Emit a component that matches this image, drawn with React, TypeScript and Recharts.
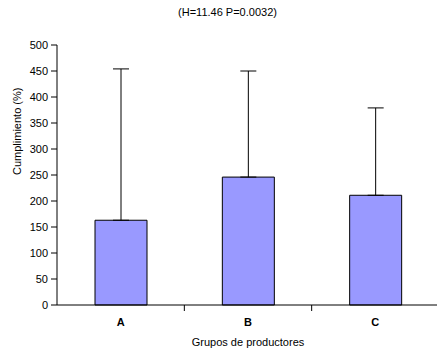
import React from 'react';
import { BarChart, Bar, XAxis, YAxis, ErrorBar } from 'recharts';

const groups = ['A', 'B', 'C'];
const means = [163, 246, 211];
const upperErr = [291, 204, 168];
const yTicks = [0, 50, 100, 150, 200, 250, 300, 350, 400, 450, 500];

const data = groups.map((g, i) => ({
  group: g,
  mean: means[i],
  err: [0, upperErr[i]],
}));

const font = "'Liberation Sans', Arial, sans-serif";
const TICK_SIZE = 6;
const TICK_MARGIN = 7;

// category tick: label centred, tick marks at the band edges (like Excel)
const GroupTick = (props: any) => {
  const { x, y, payload, index, visibleTicksCount } = props;
  const half = payload?.offset ?? 63.7;
  const axisY = y - TICK_SIZE - TICK_MARGIN;
  const last = index === visibleTicksCount - 1;
  return (
    <g>
      {index > 0 && <line x1={x - half} x2={x - half} y1={axisY} y2={axisY + TICK_SIZE} stroke="#000" />}
      {last && <line x1={x + half} x2={x + half} y1={axisY} y2={axisY + TICK_SIZE} stroke="#000" />}
      <text x={x} y={y} dy="0.71em" textAnchor="middle" fontSize={11} fontWeight="bold" fill="#000" fontFamily={font}>
        {payload.value}
      </text>
    </g>
  );
};

const App = () => {
  return (
    <div style={{ position: 'relative', margin: -8, width: 445, height: 356, background: '#fff', fontFamily: font }}>
      <div style={{ position: 'absolute', top: 6, left: 0, width: 455, textAlign: 'center', fontSize: 11, color: '#000', zIndex: 2 }}>
        (H=11.46 P=0.0032)
      </div>
      <BarChart width={445} height={356} data={data} margin={{ top: 45, right: 6, left: 0, bottom: 6 }}>
        <XAxis
          dataKey="group"
          height={45}
          stroke="#000"
          tickLine={false}
          tickSize={TICK_SIZE}
          tickMargin={TICK_MARGIN}
          tick={<GroupTick />}
          label={{ value: 'Grupos de productores', position: 'insideBottom', offset: 4, fontSize: 11, fill: '#000', fontFamily: font }}
        />
        <YAxis
          width={57}
          domain={[0, 500]}
          ticks={yTicks}
          interval={0}
          tickSize={6}
          tickMargin={3}
          stroke="#000"
          tick={{ fontSize: 11, fill: '#000', fontFamily: font }}
          label={{ value: 'Cumplimiento (%)', angle: -90, position: 'insideLeft', offset: 17, fontSize: 11, fill: '#000', fontFamily: font }}
        />
        <Bar dataKey="mean" fill="#9999FF" stroke="#000" strokeWidth={1} barSize={52} isAnimationActive={false}>
          <ErrorBar dataKey="err" direction="y" width={8} stroke="#000" strokeWidth={1} isAnimationActive={false} />
        </Bar>
      </BarChart>
    </div>
  );
};

export default App;
